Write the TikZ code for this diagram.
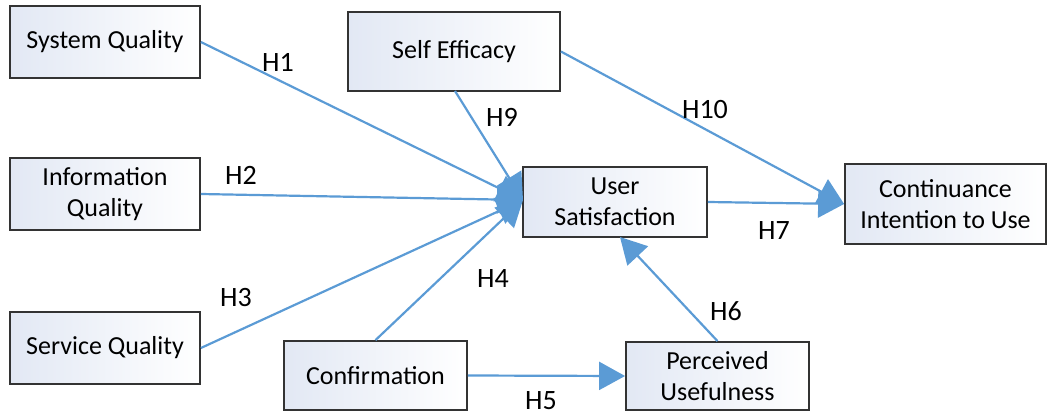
\documentclass[tikz,border=0pt]{standalone}
\usepackage{fontspec}
\setmainfont{Carlito}
\usetikzlibrary{arrows.meta}
\definecolor{linienblau}{HTML}{5B9BD5}
\definecolor{kastenblau}{HTML}{E2E8F4}
\definecolor{rahmen}{HTML}{333333}

\begin{document}
\begin{tikzpicture}[
x=1pt, y=-1pt,
kasten/.style={draw=rahmen, line width=1.8pt, left color=kastenblau, right color=white, align=center, font=\fontsize{26}{31}\selectfont, inner sep=0pt, minimum height=70pt},
pfeil/.style={linienblau, line width=2.2pt, -{Triangle[length=26pt,width=28pt]}},
hlabel/.style={font=\fontsize{28}{32}\selectfont},
]

\useasboundingbox (0,0) rectangle (1047,417);

% Kaesten
\node[kasten, minimum width=190pt, minimum height=72pt] (SQ) at (105,42) {System Quality};
\node[kasten, minimum width=190pt, minimum height=72pt] (IQ) at (105,194) {Information\\Quality};
\node[kasten, minimum width=190pt, minimum height=72pt] (SvQ) at (105,348) {Service Quality};
\node[kasten, minimum width=212pt, minimum height=79pt] (SE) at (454,51.5) {Self Efficacy};
\node[kasten, minimum width=184pt] (US) at (615,202) {User\\Satisfaction};
\node[kasten, minimum width=201pt, minimum height=80pt] (CI) at (945.5,204) {Continuance\\Intention to Use};
\node[kasten, minimum width=183pt, minimum height=69pt] (CF) at (375.5,375.5) {Confirmation};
\node[kasten, minimum width=183pt, minimum height=68pt] (PU) at (717.5,376) {Perceived\\Usefulness};

\coordinate (USin) at (523,200);

% Pfeile
\draw[pfeil] (SQ.east) -- (USin);
\draw[pfeil] (IQ.east) -- (USin);
\draw[pfeil] (SvQ.east) -- (USin);
\draw[pfeil] (CF.north) -- (USin);
\draw[pfeil] (455,91) -- (USin);
\draw[pfeil] (SE.east) -- (CI.west);
\draw[pfeil] (US.east) -- (CI.west);
\draw[pfeil] (CF.east) -- (PU.west);
\draw[pfeil] (PU.north) -- (620,237);

% Beschriftungen
\node[hlabel] (H1) at (278,62) {H1};
\node[hlabel] (H2) at (241,175) {H2};
\node[hlabel] (H3) at (236,298) {H3};
\node[hlabel] (H4) at (493,279) {H4};
\node[hlabel] (H5) at (541,401) {H5};
\node[hlabel] (H6) at (726,311) {H6};
\node[hlabel] (H7) at (774,231) {H7};
\node[hlabel] (H9) at (502,117) {H9};
\node[hlabel] (H10) at (705,110) {H10};

\end{tikzpicture}
\end{document}
